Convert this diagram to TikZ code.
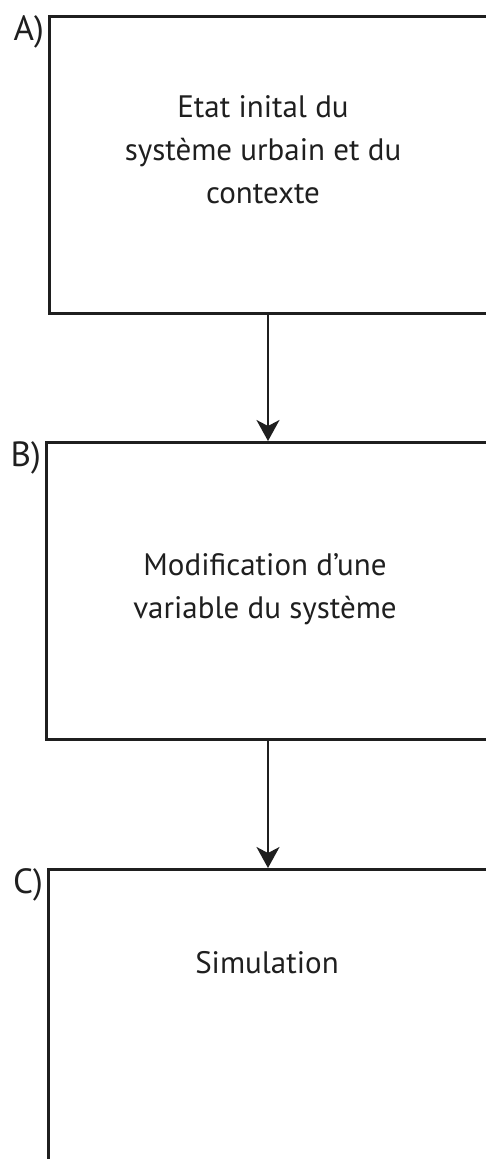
\documentclass[tikz,border=0pt]{standalone}
\usepackage{fontspec}
\setmainfont{PT Sans}
\usetikzlibrary{arrows.meta}
\begin{document}
\begin{tikzpicture}[x=1pt,y=1pt,
  box/.style={draw=black!88, line width=3pt, anchor=north west, inner sep=0pt},
  lbl/.style={font=\fontsize{35}{40}\selectfont, anchor=base east, inner sep=0pt, text=black!88},
  txt/.style={font=\fontsize{31}{43}\selectfont, align=center, inner sep=0pt, text=black!88},
  link/.style={draw=black!88, line width=2pt, -{Stealth[length=21pt,width=23pt,inset=6pt]}}
]
\useasboundingbox (0,0) rectangle (486,-1159);
\clip (0,0) rectangle (486,-1159);
\node[box, minimum width=520pt, minimum height=297pt] (A) at (48,-15) {};
\node[box, minimum width=520pt, minimum height=297pt] (B) at (45,-441) {};
\node[box, minimum width=520pt, minimum height=400pt] (C) at (47,-868) {};
\node[lbl] (la) at (44,-40) {A)};
\node[lbl] (lb) at (41,-466) {B)};
\node[lbl] (lc) at (43,-893) {C)};
\node[txt] (ta) at (263,-150) {Etat inital du\\système urbain et du\\contexte};
\node[txt] (tb) at (265,-589) {Modification d’une\\variable du système};
\node[txt] (tc) at (267,-963) {Simulation};
\coordinate (a1) at (268,-312);
\coordinate (b0) at (268,-441);
\coordinate (b1) at (268,-738);
\coordinate (c0) at (268,-868);
\draw[link] (a1) -- (b0);
\draw[link] (b1) -- (c0);
\end{tikzpicture}
\end{document}
